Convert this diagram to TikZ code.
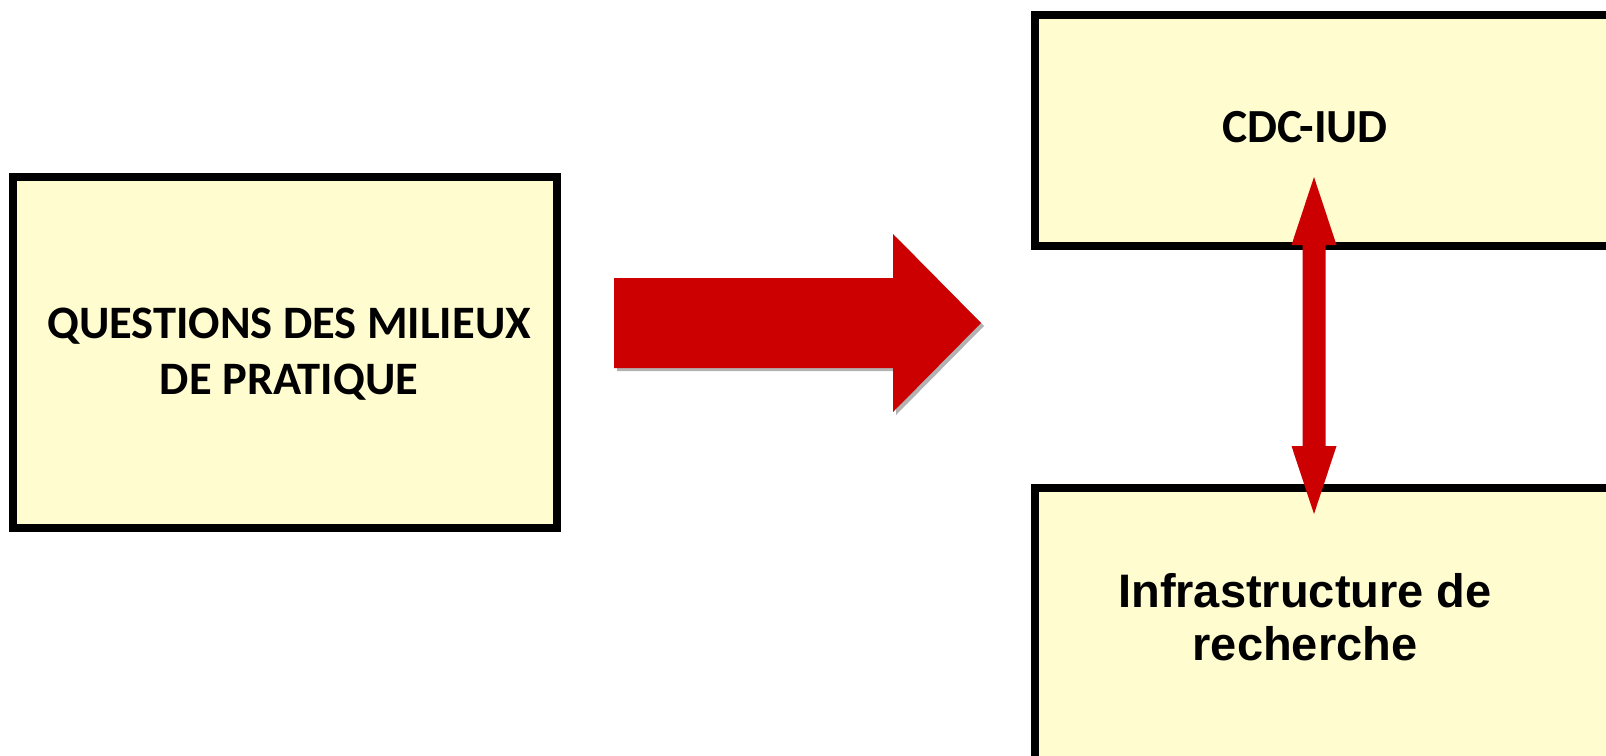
\documentclass[tikz,border=0pt]{standalone}
\usepackage{fontspec}
\newfontfamily\calib{Carlito}
\newfontfamily\arialf{Liberation Sans}
\definecolor{boxfill}{HTML}{FFFDD0}
\definecolor{arrred}{HTML}{CC0000}
\begin{document}
\begin{tikzpicture}[x=1pt,y=-1pt,
  boxstyle/.style={draw=black,line width=7.5pt,fill=boxfill},
  lbl/.style={align=center,inner sep=0pt}]
\useasboundingbox (0,0) rectangle (1606,755);
\clip (0,0) rectangle (1606,755);
% boxes
\path[boxstyle] (13,177) rectangle (557,528);
\path[boxstyle] (1035,15) rectangle (1700,246);
\path[boxstyle] (1035,488) rectangle (1700,800);
% texts
\node[lbl,font=\calib\bfseries\fontsize{46.5}{56}\selectfont] (qtext) at (289,354) {QUESTIONS DES MILIEUX\\DE PRATIQUE};
\node[lbl,font=\calib\bfseries\fontsize{47.5}{56}\selectfont] (cdctext) at (1305,127) {CDC-IUD};
\node[lbl,font=\arialf\bfseries\fontsize{47}{53}\selectfont] (infratext) at (1305,617) {Infrastructure de\\recherche};
% big arrow shadow
\fill[gray!60] (617,281) -- (896,281) -- (896,237) -- (984,326) -- (896,415) -- (896,371) -- (617,371) -- cycle;
\fill[arrred] (614,278) -- (893,278) -- (893,234) -- (981,323) -- (893,412) -- (893,368) -- (614,368) -- cycle;
% double arrow
\coordinate (ta) at (1314,177);
\coordinate (tb) at (1314,514);
\fill[arrred] (ta) -- ++(22.5,68) -- ++(-11,0) -- (1325.5,446) -- ++(11,0) -- (tb)
  -- ++(-22.5,-68) -- ++(11,0) -- (1302.5,245) -- ++(-11,0) -- cycle;
\end{tikzpicture}
\end{document}
